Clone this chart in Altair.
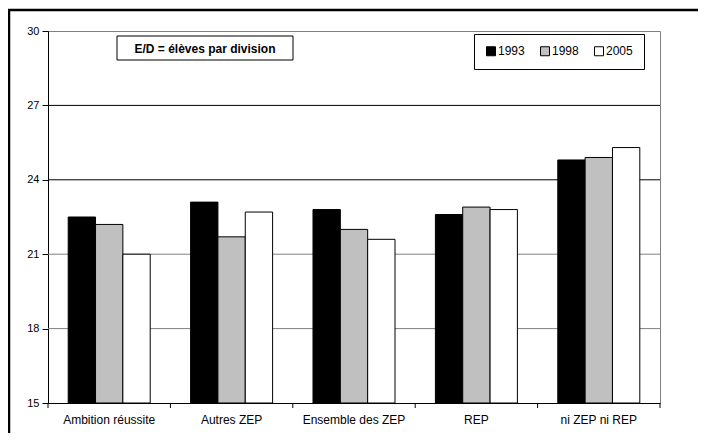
import altair as alt
import pandas as pd

categories = ["Ambition réussite", "Autres ZEP", "Ensemble des ZEP", "REP", "ni ZEP ni REP"]
years = ["1993", "1998", "2005"]
v1993 = [22.5, 23.1, 22.8, 22.6, 24.8]
v1998 = [22.2, 21.7, 22.0, 22.9, 24.9]
v2005 = [21.0, 22.7, 21.6, 22.8, 25.3]
y_ticks = [15, 18, 21, 24, 27, 30]
grid_vals = [18, 21, 24, 27]
grid_cols = ["#808080", "#808080", "#000000", "#000000"]
fills = ["#000000", "#c0c0c0", "#ffffff"]
note = "E/D = élèves par division"

rows = []
for yr, vals in zip(years, [v1993, v1998, v2005]):
    for c, v in zip(categories, vals):
        rows.append({"cat": c, "year": yr, "val": v})
df = pd.DataFrame(rows)
grid_df = pd.DataFrame({"g": grid_vals, "c": grid_cols})
tick_df = pd.DataFrame({"b": list(range(len(categories) + 1))})
one = pd.DataFrame({"k": [0]})

W, H = 612, 372
FONT = "Liberation Sans"

yscale = alt.Scale(domain=[15, 30], nice=False, zero=False)
yaxis = alt.Axis(title=None, values=y_ticks, grid=False, domainColor="black",
                 tickColor="black", tickSize=6, labelFont=FONT, labelFontSize=11,
                 labelColor="black", labelPadding=3)

grid = alt.Chart(grid_df).mark_rule(strokeWidth=1).encode(
    y=alt.Y("g:Q", scale=yscale, axis=yaxis),
    color=alt.Color("c:N", scale=None),
)

bars = alt.Chart(df).mark_bar(stroke="black", strokeWidth=1, opacity=1).encode(
    x=alt.X("cat:N", sort=categories,
            scale=alt.Scale(paddingInner=0.33, paddingOuter=0.165),
            axis=alt.Axis(title=None, labelAngle=0, ticks=False, domain=True,
                          domainColor="black", labelFont=FONT, labelFontSize=12,
                          labelColor="black", labelPadding=11)),
    xOffset=alt.XOffset("year:N", sort=years, scale=alt.Scale(paddingInner=0, paddingOuter=0)),
    y=alt.Y("val:Q", scale=yscale, axis=yaxis),
    y2=alt.datum(15),
    fill=alt.Fill("year:N", sort=years,
                  scale=alt.Scale(domain=years, range=fills),
                  legend=alt.Legend(orient="none", legendX=426, legendY=3,
                                    direction="horizontal", title=None,
                                    strokeColor="black", fillColor="white", padding=11,
                                    symbolType="square", symbolSize=81,
                                    symbolStrokeColor="black", symbolStrokeWidth=1,
                                    labelFont=FONT, labelFontSize=12, labelColor="black",
                                    labelOffset=1, columnPadding=13)),
)

ticks = alt.Chart(tick_df).mark_rule(color="black", strokeWidth=1).encode(
    x=alt.X("b:Q", scale=alt.Scale(domain=[0, len(categories)], nice=False, zero=False), axis=None),
    y=alt.value(H),
    y2=alt.value(H + 5),
)

box = alt.Chart(one).mark_rect(fill="white", stroke="black", strokeWidth=1).encode(
    x=alt.value(69), x2=alt.value(245), y=alt.value(5), y2=alt.value(29)
)
box_text = alt.Chart(one).mark_text(font=FONT, fontSize=12, fontWeight="bold", color="black",
                                    align="center", baseline="middle").encode(
    x=alt.value(157), y=alt.value(17.5), text=alt.value(note)
)

frame_left = alt.Chart(one).mark_rule(color="black", strokeWidth=2.5).encode(
    x=alt.value(-39), y=alt.value(-22), y2=alt.value(H + 60)
)
frame_top = alt.Chart(one).mark_rule(color="black", strokeWidth=2.5).encode(
    x=alt.value(-40), x2=alt.value(W + 60), y=alt.value(-21)
)

chart = alt.layer(grid, bars, ticks, box, box_text, frame_left, frame_top).resolve_scale(
    x="independent"
).properties(
    width=W, height=H,
    autosize=alt.AutoSizeParams(type="none"),
    padding={"left": 40, "top": 23, "right": 38, "bottom": 30},
    background="white",
).configure_view(stroke="#808080", strokeWidth=1)

chart.save("out.html", embed_options={"renderer": "svg", "actions": False})
